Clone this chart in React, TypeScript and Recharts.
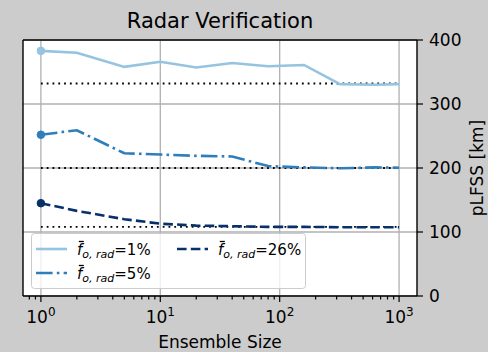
import { LineChart, Line, XAxis, YAxis, CartesianGrid, ReferenceLine } from "recharts";

// ensemble sizes (x, log scale) and pLFSS in km per observation fraction
const ensembleSizes = [1, 2, 5, 10, 20, 40, 80, 160, 320, 640, 1000];
const lfss1 = [383, 380, 358, 366, 357, 364, 359, 361, 331, 330, 331];
const lfss5 = [252, 259, 223, 221, 219, 218, 203, 201, 199.5, 201, 200.5];
const lfss26 = [145, 133, 120, 113, 110, 109, 108, 108, 107.5, 107.5, 107.5];
// dotted reference levels
const refLevels = [332, 200, 108];

const yTicks = [0, 100, 200, 300, 400];
const majorTicks = [1, 10, 100, 1000];
const minorTicks = [0.8, 0.9, 2, 3, 4, 5, 6, 7, 8, 9, 20, 30, 40, 50, 60, 70, 80, 90, 200, 300, 400, 500, 600, 700, 800, 900];
const xDomain = [0.708, 1413];

const series = [
  { key: "p1", pct: "1", color: "#94c4df", dash: undefined },
  { key: "p5", pct: "5", color: "#2f7ebc", dash: "16.6 4.2 2.6 4.2" },
  { key: "p26", pct: "26", color: "#08306b", dash: "9.6 4.2" },
];

const chartData = ensembleSizes.map((n, i) => ({
  n,
  p1: lfss1[i],
  p5: lfss5[i],
  p26: lfss26[i],
}));

const allTicks = [...minorTicks, ...majorTicks].sort((a, b) => a - b);

const XTick = ({ x, y, payload }: any) => {
  const v = payload.value;
  const major = majorTicks.includes(v);
  const exp = Math.round(Math.log10(v));
  return (
    <g>
      <line x1={x} x2={x} y1={y} y2={y + (major ? 6 : 3.5)} stroke="#000" strokeWidth={1.2} />
      {major && (
        <text x={x} y={y + 27} textAnchor="middle" fontSize={17} fill="#000">
          10<tspan dy={-7} fontSize={12}>{exp}</tspan>
        </text>
      )}
    </g>
  );
};

const firstDot = (color: string) => (props: any) =>
  props.index === 0 ? (
    <circle key={props.index} cx={props.cx} cy={props.cy} r={3.8} fill={color} stroke={color} />
  ) : (
    <g key={props.index} />
  );

const LegendLabel = ({ x, y, pct }: { x: number; y: number; pct: string }) => (
  <g>
    <line x1={x + 1.8} x2={x + 6.8} y1={y - 13} y2={y - 13} stroke="#000" strokeWidth={1.3} />
    <text x={x} y={y} fontSize={15} fill="#000">
      <tspan fontStyle="italic">f</tspan>
      <tspan fontStyle="italic" fontSize={11} dy={3}>o, rad</tspan>
      <tspan dy={-3}>={pct}%</tspan>
    </text>
  </g>
);

export default function App() {
  return (
    <div
      style={{
        position: "fixed",
        left: 0,
        top: 0,
        width: 488,
        height: 352,
        background: "#cccccc",
        fontFamily: "DejaVu Sans",
      }}
    >
      <LineChart width={488} height={352} data={chartData} margin={{ top: 40, left: 23, right: 0, bottom: 0 }}>
        <CartesianGrid
          fill="#ffffff"
          stroke="#b0b0b0"
          strokeWidth={1.3}
          verticalValues={majorTicks}
          syncWithTicks={false}
        />
        <XAxis
          dataKey="n"
          type="number"
          scale="log"
          domain={xDomain}
          allowDataOverflow
          ticks={allTicks}
          interval={0}
          tick={<XTick />}
          tickLine={false}
          tickSize={0}
          tickMargin={0}
          axisLine={{ stroke: "#000", strokeWidth: 1.4 }}
          height={56}
        />
        <YAxis
          orientation="right"
          domain={[0, 400]}
          ticks={yTicks}
          interval={0}
          width={71}
          tickSize={6}
          tickMargin={6}
          tick={{ fontSize: 17, fill: "#000" }}
          tickLine={{ stroke: "#000", strokeWidth: 1.2 }}
          axisLine={{ stroke: "#000", strokeWidth: 1.4 }}
        />
        {refLevels.map((lvl) => (
          <ReferenceLine
            key={lvl}
            segment={[
              { x: ensembleSizes[0], y: lvl },
              { x: ensembleSizes[ensembleSizes.length - 1], y: lvl },
            ]}
            stroke="#000"
            strokeWidth={1.8}
            strokeDasharray="1.8 4"
          />
        ))}
        {series.map((s) => (
          <Line
            key={s.key}
            dataKey={s.key}
            type="linear"
            stroke={s.color}
            strokeWidth={2.6}
            strokeDasharray={s.dash}
            dot={firstDot(s.color)}
            activeDot={false}
            isAnimationActive={false}
          />
        ))}
        {/* top and left spines */}
        <ReferenceLine y={400} stroke="#000" strokeWidth={1.4} />
        <ReferenceLine x={xDomain[0]} stroke="#000" strokeWidth={1.4} />
      </LineChart>
      <svg width={488} height={352} style={{ position: "absolute", left: 0, top: 0, pointerEvents: "none" }}>
        <text x={220} y={28} fontSize={21} textAnchor="middle" fill="#000">
          Radar Verification
        </text>
        <text x={220} y={348} fontSize={17} textAnchor="middle" fill="#000">
          Ensemble Size
        </text>
        <text transform="translate(483,168) rotate(-90)" fontSize={17} textAnchor="middle" fill="#000">
          pLFSS [km]
        </text>
        <rect x={31.5} y={233.5} width={274} height={55} rx={3} fill="rgba(255,255,255,0.8)" stroke="#cccccc" />
        <line x1={36} x2={67} y1={249} y2={249} stroke={series[0].color} strokeWidth={2.6} />
        <LegendLabel x={77} y={254.5} pct={series[0].pct} />
        <line x1={36} x2={67} y1={273} y2={273} stroke={series[1].color} strokeWidth={2.6} strokeDasharray={series[1].dash} />
        <LegendLabel x={77} y={278.5} pct={series[1].pct} />
        <line x1={177} x2={208} y1={249} y2={249} stroke={series[2].color} strokeWidth={2.6} strokeDasharray={series[2].dash} />
        <LegendLabel x={218} y={254.5} pct={series[2].pct} />
      </svg>
    </div>
  );
}
